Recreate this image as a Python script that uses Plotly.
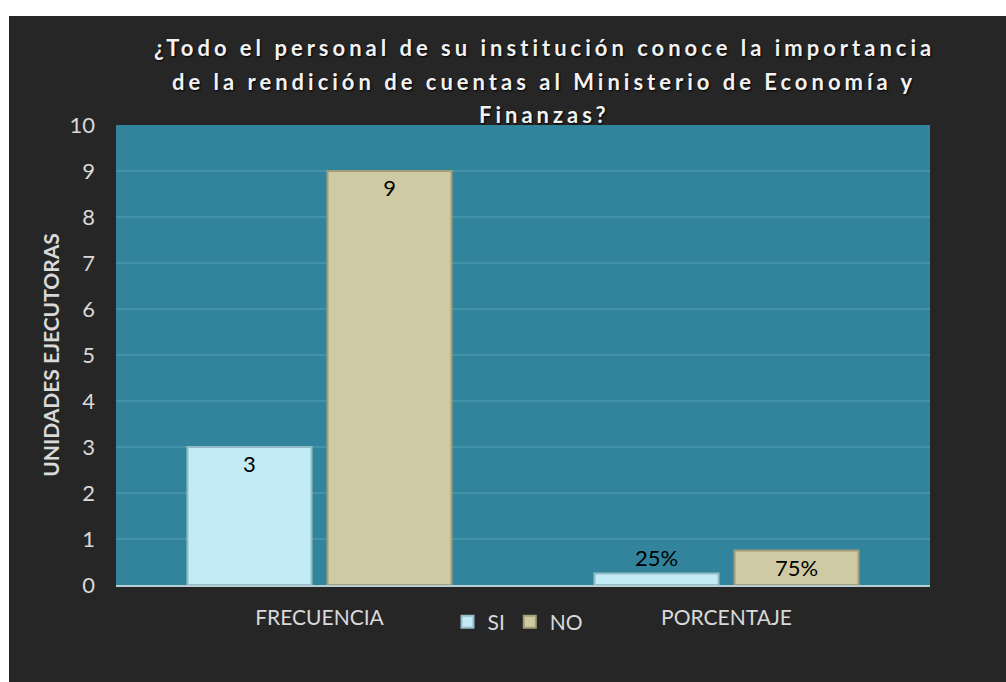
import plotly.graph_objects as go

categories = ["FRECUENCIA", "PORCENTAJE"]
si_values = [3, 0.25]
no_values = [9, 0.75]
si_labels = ["3", "25%"]
no_labels = ["9", "75%"]
y_tick_values = list(range(0, 11))

title_lines = ["¿Todo el personal de su institución conoce la importancia",
               "de la rendición de cuentas al Ministerio de Economía y",
               "Finanzas?"]

FONT = "Lato"
W, H = 1006, 682
L, R, T, B = 116, 76, 125, 97
pw, ph = W - L - R, H - T - B
DARK = "#262626"

fig = go.Figure()
fig.add_trace(go.Bar(
    name="SI", x=categories, y=si_values, text=si_labels,
    textposition=["inside", "outside"], insidetextanchor="end",
    textfont=dict(family=FONT, size=22, color="#000000"),
    marker=dict(color="#C3EBF5", line=dict(color="#93BCC6", width=2)),
    cliponaxis=False,
))
fig.add_trace(go.Bar(
    name="NO", x=categories, y=no_values, text=no_labels,
    textposition=["inside", "inside"], insidetextanchor="end",
    textfont=dict(family=FONT, size=22, color="#000000"),
    marker=dict(color="#CFCAA3", line=dict(color="#A39E78", width=2)),
    cliponaxis=False,
))

# white strips along the top and left edges (outside the dark chart panel)
fig.add_shape(type="rect", xref="paper", yref="paper", layer="below",
              x0=-L / pw - 0.05, x1=(W - L) / pw + 0.05,
              y0=(T + ph - 16) / ph, y1=(T + ph) / ph + 0.05,
              fillcolor="#FFFFFF", line=dict(width=0))
fig.add_shape(type="rect", xref="paper", yref="paper", layer="below",
              x0=-L / pw - 0.05, x1=(9 - L) / pw,
              y0=-B / ph - 0.05, y1=(T + ph) / ph + 0.05,
              fillcolor="#FFFFFF", line=dict(width=0))

# chart title, one annotation per line (Excel-like wide line spacing)
title_centers_px = [47, 81, 115]
for line, cy in zip(title_lines, title_centers_px):
    fig.add_annotation(
        text='<span style="letter-spacing:4px">' + line + "</span>",
        xref="paper", yref="paper", x=(544 - L) / pw, y=(T + ph - cy) / ph,
        xanchor="center", yanchor="middle", showarrow=False,
        font=dict(family=FONT, size=22, color="#F2F2F2", weight="bold",
                  shadow="1px 1px 2px #000000"))

fig.update_layout(
    width=W, height=H,
    margin=dict(l=L, r=R, t=T, b=B, autoexpand=False),
    paper_bgcolor=DARK,
    plot_bgcolor="#31849B",
    barmode="group", bargap=0.312, bargroupgap=0.114,
    font=dict(family=FONT, color="#D9D9D9"),
    showlegend=True,
    legend=dict(orientation="h", x=(518 - L) / pw, xanchor="center",
                y=-(622 - T - ph) / ph, yanchor="middle",
                font=dict(family=FONT, size=21, color="#D9D9D9"),
                bgcolor="rgba(0,0,0,0)", itemwidth=30),
    xaxis=dict(showline=True, linecolor="#B5CDD3", linewidth=2,
               showgrid=False, ticks="", ticklabelstandoff=13,
               tickfont=dict(family=FONT, size=21, color="#D9D9D9")),
    yaxis=dict(range=[0, 10], tickvals=y_tick_values, showline=False,
               showgrid=True, gridcolor="#4593A8", gridwidth=2,
               zeroline=False, ticks="", ticklabelstandoff=20,
               tickfont=dict(family=FONT, size=22, color="#D9D9D9")),
)
fig.update_yaxes(title=dict(text="UNIDADES EJECUTORAS", standoff=4,
                            font=dict(family=FONT, size=21, color="#D9D9D9",
                                      weight="bold")))

fig.write_html("out.html", config={"displayModeBar": False},
               post_script="document.body.style.margin='0';")
